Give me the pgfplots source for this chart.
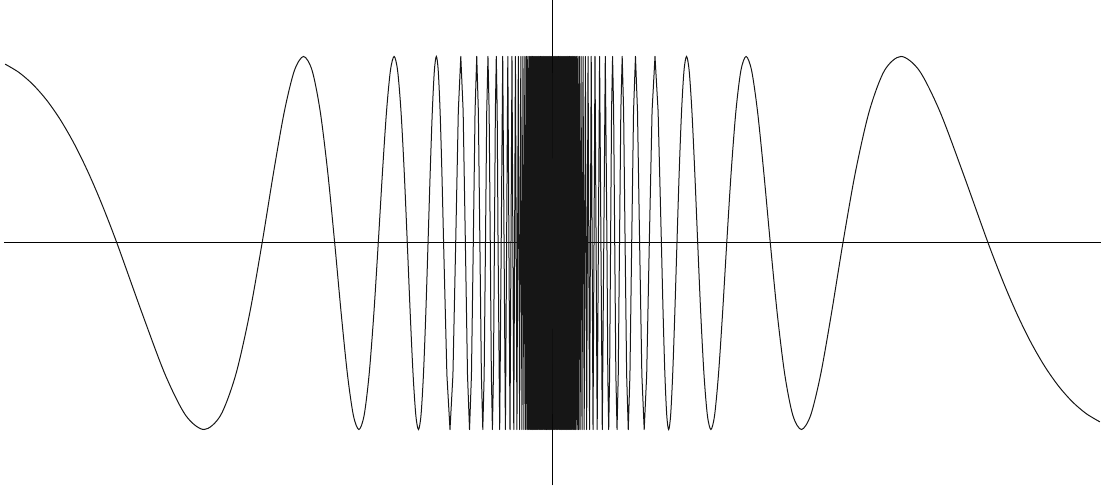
\documentclass[border=0pt]{standalone}
\usepackage{pgfplots}
\usepackage{pgfplotstable}
\pgfplotsset{compat=1.18}
\definecolor{curve}{RGB}{22,22,22}
% outer part of the curve, x > 0 (smooth)
\pgfplotstableread{
x y
0.200000 -0.9589
0.195000 -0.9149
0.190000 -0.8521
0.185000 -0.7693
0.180000 -0.6651
0.175000 -0.5387
0.170000 -0.3902
0.165000 -0.2208
0.159155 0
0.149793 0.3827
0.141471 0.7071
0.134025 0.9239
0.127324 1
0.121261 0.9239
0.115749 0.7071
0.110716 0.3827
0.106103 0
0.101859 -0.3827
0.097942 -0.7071
0.094314 -0.9239
0.090946 -1
0.087810 -0.9239
0.084883 -0.7071
0.082145 -0.3827
0.079577 0
0.077166 0.3827
0.074896 0.7071
0.072757 0.9239
0.070736 1
0.068824 0.9239
0.067013 0.7071
0.065294 0.3827
0.063662 0
0.062109 -0.3827
0.060631 -0.7071
0.059221 -0.9239
0.057875 -1
0.056588 -0.9239
0.055358 -0.7071
0.054180 -0.3827
0.053052 0
0.051969 0.3827
0.050930 0.7071
0.049931 0.9239
0.048971 1
0.048047 0.9239
0.047157 0.7071
0.046300 0.3827
0.045473 0
0.044675 -0.3827
0.043905 -0.7071
0.043161 -0.9239
0.042441 -1
0.041746 -0.9239
0.041072 -0.7071
0.040420 -0.3827
0.039789 0
}\outer
% inner part of the curve, x > 0 (dense oscillations)
\pgfplotstableread{
x y
0.039789 0
0.038583 0.7071
0.037448 1
0.036378 0.7071
0.035368 0
0.034412 -0.7071
0.033506 -1
0.032647 -0.7071
0.031831 0
0.031055 0.7071
0.030315 1
0.029610 0.7071
0.028937 0
0.028294 -0.7071
0.027679 -1
0.027090 -0.7071
0.026526 0
0.025985 0.7071
0.025465 1
0.024966 0.7071
0.024485 0
0.024024 -0.7071
0.023578 -1
0.023150 -0.7071
0.022736 0
0.022337 0.7071
0.021952 1
0.021580 0.7071
0.021221 0
0.020873 -0.7071
0.020536 -1
0.020210 -0.7071
0.019894 0
0.019292 1
0.018189 -1
0.017206 1
0.016324 -1
0.015527 1
0.014805 -1
0.014147 1
0.013545 -1
0.012992 1
0.012483 -1
0.012012 1
0.011575 -1
0.011169 1
0.010790 -1
0.010436 1
0.010105 -1
0.009794 1
0.009502 -1
0.009226 1
0.008966 -1
0.008721 1
0.008488 -1
0.008268 1
0.008058 -1
0.007860 1
0.0076 -1
0.0074 1
0.0072 -1
0.0070 1
0.0068 -1
0.0066 1
0.0064 -1
0.0062 1
0.0060 -1
0.0058 1
0.0056 -1
0.0054 1
0.0052 -1
0.0050 1
0.0048 -1
0.0046 1
0.0044 -1
0.0042 1
0.0040 -1
0.0038 1
0.0036 -1
0.0034 1
0.0032 -1
0.0030 1
0.0028 -1
0.0026 1
0.0024 -1
0.0022 1
0.0020 -1
0.0018 1
0.0016 -1
0.0014 1
0.0012 -1
0.0010 1
0.0008 -1
0.0006 1
0.0004 -1
0.0002 1
0.0000 0
}\inner
\begin{document}
\begin{tikzpicture}
\begin{axis}[
  scale only axis,
  width=438.8pt, height=194pt,
  xmin=-0.2004, xmax=0.2004,
  ymin=-1.3, ymax=1.3,
  axis lines=middle,
  axis line style={-, draw=black, line width=0.4pt},
  ticks=none,
  clip=false,
]
\addplot[curve, line width=0.4pt, smooth] table[x=x, y=y] {\outer};
\addplot[curve, line width=0.4pt, smooth] table[x expr=-\thisrow{x}, y expr=-\thisrow{y}] {\outer};
\addplot[curve, line width=0.4pt, line join=round] table[x=x, y=y] {\inner};
\addplot[curve, line width=0.4pt, line join=round] table[x expr=-\thisrow{x}, y expr=-\thisrow{y}] {\inner};
\end{axis}
\path ([yshift=-2pt]current axis.south) ([xshift=-1.6pt]current axis.west) ([xshift=1.6pt]current axis.east);
\end{tikzpicture}
\end{document}
